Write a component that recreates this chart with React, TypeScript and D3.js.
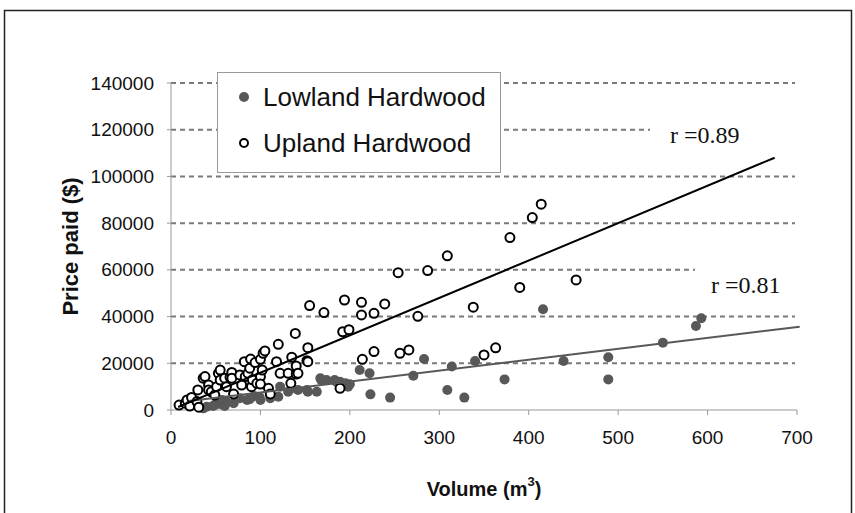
import * as d3 from "d3";

// Volume (m3), price paid ($)
const lowlandVolume = [36, 40, 47, 49, 55, 57, 60, 62, 70, 77, 85, 88, 93, 99, 100, 111, 111, 120, 122, 131, 135, 142, 152, 153, 163, 167, 168, 174, 183, 185, 189, 195, 198, 200, 211, 222, 223, 245, 271, 283, 309, 314, 328, 340, 373, 416, 439, 489, 489, 550, 587, 593];
const lowlandPrice = [700, 1400, 1700, 2200, 2600, 4300, 1700, 3600, 2900, 5000, 4300, 4600, 6000, 5600, 4300, 6400, 5000, 5700, 10000, 7800, 9300, 8600, 8600, 7800, 7800, 13600, 12800, 12800, 12800, 12100, 12100, 11400, 10000, 11000, 17100, 15700, 6700, 5300, 14700, 21800, 8600, 18600, 5300, 21000, 13100, 43100, 21000, 22600, 13100, 28800, 36000, 39300];

const uplandVolume = [9, 16, 18, 21, 23, 29, 30, 31, 36, 38, 42, 42, 45, 49, 51, 53, 55, 55, 60, 62, 66, 68, 68, 70, 77, 79, 82, 83, 86, 88, 89, 90, 91, 94, 96, 100, 100, 100, 102, 103, 105, 109, 111, 118, 120, 122, 131, 134, 135, 139, 140, 140, 142, 152, 153, 153, 155, 171, 189, 192, 194, 199, 213, 213, 214, 227, 227, 239, 254, 256, 266, 276, 287, 309, 338, 350, 363, 379, 390, 404, 414, 453];
const uplandPrice = [2100, 2900, 4300, 1700, 5400, 3600, 8600, 1200, 13600, 14300, 10700, 8600, 7800, 6400, 10000, 15700, 17100, 12800, 13600, 10000, 14000, 16100, 13600, 6900, 15000, 10700, 20700, 14300, 15700, 17900, 21800, 10000, 12900, 20300, 11400, 14300, 11100, 21700, 17100, 24300, 25300, 9300, 6900, 20700, 28100, 15700, 15700, 11400, 22600, 32800, 18800, 15400, 15700, 21100, 26700, 20700, 44700, 41700, 9300, 33500, 47100, 34400, 46100, 40700, 21700, 41400, 25000, 45400, 58800, 24300, 25700, 40100, 59700, 66000, 44000, 23600, 26600, 73800, 52500, 82400, 88100, 55700];

// fitted lines: price = intercept + slope * volume
const uplandFit = { slope: 160, intercept: 0, from: 8, to: 675, r: "0.89" };
const lowlandFit = { slope: 46.6, intercept: 2880, from: 20, to: 703, r: "0.81" };

const xTicks = [0, 100, 200, 300, 400, 500, 600, 700];
const yTicks = [0, 20000, 40000, 60000, 80000, 100000, 120000, 140000];
const seriesNames = ["Lowland Hardwood", "Upland Hardwood"];

const W = 855;
const H = 513;
const sans = "'Liberation Sans', Arial, sans-serif";
const serif = "'Liberation Serif', 'Times New Roman', serif";
const lowColor = "#585858";

export default function App() {
  const x = d3.scaleLinear().domain([0, 700]).range([171, 797]);
  const y = d3.scaleLinear().domain([0, 140000]).range([410, 83]);

  const lowland = lowlandVolume.map((v, i) => [v, lowlandPrice[i]]);
  const upland = uplandVolume.map((v, i) => [v, uplandPrice[i]]);

  const fitPath = (f: typeof uplandFit) =>
    d3
      .line<number>()
      .x((v) => x(v))
      .y((v) => y(f.intercept + f.slope * v))([f.from, f.to]);

  return (
    <svg
      width={W}
      height={H}
      style={{ position: "absolute", left: 0, top: 0, background: "#fff" }}
    >
      <rect x={0} y={0} width={W} height={H} fill="#fff" />
      <path d={`M4.5,${H}V10.5H851.5V${H}`} fill="none" stroke="#222" strokeWidth={1.5} />

      {/* gridlines */}
      {yTicks.slice(1).map((t) => (
        <line
          key={t}
          x1={x(0)}
          x2={795}
          y1={y(t)}
          y2={y(t)}
          stroke="#7a7a7a"
          strokeWidth={2}
          strokeDasharray="5 4"
        />
      ))}

      {/* axes */}
      <line x1={x(0)} x2={x(0)} y1={y(140000)} y2={y(0)} stroke="#999" strokeWidth={1} />
      <line x1={x(0)} x2={x(700)} y1={y(0)} y2={y(0)} stroke="#999" strokeWidth={1} />
      {yTicks.map((t) => (
        <g key={t}>
          <line x1={x(0) - 4} x2={x(0)} y1={y(t)} y2={y(t)} stroke="#999" />
          <text
            x={154}
            y={y(t)}
            textAnchor="end"
            dominantBaseline="central"
            fontFamily={sans}
            fontSize={19}
            fill="#111"
          >
            {t}
          </text>
        </g>
      ))}
      {xTicks.map((t) => (
        <g key={t}>
          <line x1={x(t)} x2={x(t)} y1={y(0)} y2={y(0) + 5} stroke="#999" />
          <text
            x={x(t)}
            y={437}
            textAnchor="middle"
            dominantBaseline="central"
            fontFamily={sans}
            fontSize={19}
            fill="#111"
          >
            {t}
          </text>
        </g>
      ))}
      <text
        x={x(350)}
        y={489}
        textAnchor="middle"
        dominantBaseline="central"
        fontFamily={sans}
        fontWeight="bold"
        fontSize={20}
        fill="#111"
      >
        Volume (m
        <tspan fontSize={13} dy={-8}>
          3
        </tspan>
        <tspan dy={8}>)</tspan>
      </text>
      <text
        transform={`translate(70,${(y(0) + y(140000)) / 2}) rotate(-90)`}
        textAnchor="middle"
        dominantBaseline="central"
        fontFamily={sans}
        fontWeight="bold"
        fontSize={22}
        fill="#111"
      >
        Price paid ($)
      </text>

      {/* label backgrounds */}
      <rect x={650} y={112} width={150} height={38} fill="#fff" />
      <rect x={695} y={262} width={105} height={42} fill="#fff" />
      <text x={670} y={135} dominantBaseline="central" fontFamily={serif} fontSize={24} fill="#111">
        r ={uplandFit.r}
      </text>
      <text x={711} y={285} dominantBaseline="central" fontFamily={serif} fontSize={24} fill="#111">
        r ={lowlandFit.r}
      </text>

      {/* points */}
      {lowland.map((d, i) => (
        <circle key={"l" + i} cx={x(d[0])} cy={y(d[1])} r={5} fill={lowColor} />
      ))}
      {upland.map((d, i) => (
        <circle
          key={"u" + i}
          cx={x(d[0])}
          cy={y(d[1])}
          r={4.5}
          fill="#fff"
          stroke="#000"
          strokeWidth={2}
        />
      ))}

      {/* fitted lines */}
      <path d={fitPath(lowlandFit) || ""} fill="none" stroke={lowColor} strokeWidth={2} />
      <path d={fitPath(uplandFit) || ""} fill="none" stroke="#000" strokeWidth={2} />

      {/* legend */}
      <rect x={217.5} y={72.5} width={283} height={100} fill="#fff" stroke="#999" strokeWidth={1} />
      <circle cx={244} cy={97} r={5} fill={lowColor} />
      <circle cx={244} cy={143} r={4} fill="#fff" stroke="#000" strokeWidth={2} />
      {seriesNames.map((s, i) => (
        <text
          key={s}
          x={263}
          y={97 + i * 46}
          dominantBaseline="central"
          fontFamily={sans}
          fontSize={26}
          fill="#111"
        >
          {s}
        </text>
      ))}
    </svg>
  );
}
